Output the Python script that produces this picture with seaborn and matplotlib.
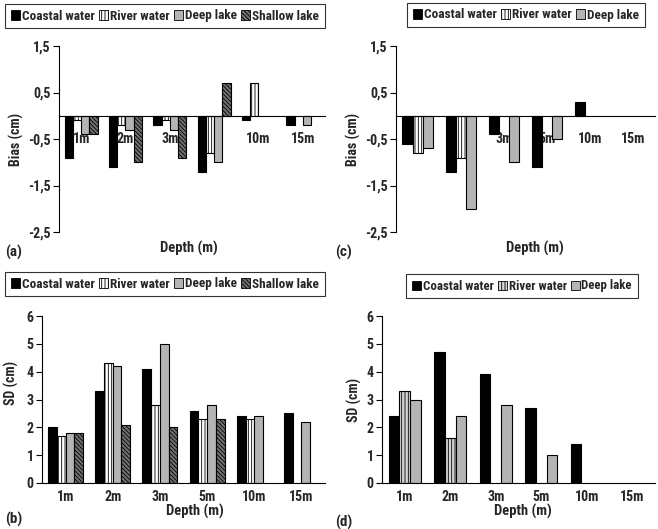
# Bias and SD of depth estimates for the four water types (panels a-d)
import numpy as np
import pandas as pd
import seaborn as sns
import matplotlib.pyplot as plt
from matplotlib.patches import Patch
from matplotlib import font_manager

# %%
# data (None = no bar)
depths = ['1m', '2m', '3m', '5m', '10m', '15m']

bias_a_coastal = [-0.9, -1.1, -0.2, -1.2, -0.1, -0.2]
bias_a_river = [-0.1, -0.2, -0.1, -0.8, 0.7, None]
bias_a_deep = [-0.4, -0.3, -0.3, -1.0, None, -0.2]
bias_a_shallow = [-0.4, -1.0, -0.9, 0.7, None, None]

sd_b_coastal = [2.0, 3.3, 4.1, 2.6, 2.4, 2.5]
sd_b_river = [1.7, 4.3, 2.8, 2.3, 2.3, None]
sd_b_deep = [1.8, 4.2, 5.0, 2.8, 2.4, 2.2]
sd_b_shallow = [1.8, 2.1, 2.0, 2.3, None, None]

bias_c_coastal = [-0.6, -1.2, -0.4, -1.1, 0.3, None]
bias_c_river = [-0.8, -0.9, None, None, None, None]
bias_c_deep = [-0.7, -2.0, -1.0, -0.5, None, None]

sd_d_coastal = [2.4, 4.7, 3.9, 2.7, 1.4, None]
sd_d_river = [3.3, 1.6, None, None, None, None]
sd_d_deep = [3.0, 2.4, 2.8, 1.0, None, None]

types4 = ['Coastal water', 'River water', 'Deep lake', 'Shallow lake']
types3 = ['Coastal water', 'River water', 'Deep lake']

bias_ticks = [1.5, 0.5, -0.5, -1.5, -2.5]
sd_ticks = [0, 1, 2, 3, 4, 5, 6]

# %%
sns.set_style('white')
# look for a narrow / condensed sans face (the original uses Arial Narrow bold)
narrow = None
for want in ['Liberation Sans Narrow', 'Roboto Condensed', 'Open Sans Condensed',
             'Noto Sans Condensed', 'Noto Sans', 'DejaVu Sans']:
    for f in font_manager.fontManager.ttflist:
        if f.name == want and ('Narrow' in f.name or 'Condensed' in f.fname
                               or 'Narrow' in f.fname or f.stretch == 'condensed'):
            narrow = f
            break
    if narrow is not None:
        break
if narrow is not None:
    plt.rcParams['font.family'] = [narrow.name, 'DejaVu Sans']
    plt.rcParams['font.stretch'] = narrow.stretch
else:
    plt.rcParams['font.family'] = ['Liberation Sans', 'DejaVu Sans']
plt.rcParams['font.weight'] = 'bold'
plt.rcParams['font.size'] = 10
plt.rcParams['hatch.linewidth'] = 0.6
plt.rcParams['hatch.color'] = 'black'

styles = {'Coastal water': ('black', ''),
          'River water': ('white', '|||||'),
          'Deep lake': ('#b4b4b4', ''),
          'Shallow lake': ('#707070', '\\\\\\\\\\\\\\\\')}


def make_df(series, names):
    rows = []
    for name, vals in zip(names, series):
        for d, v in zip(depths, vals):
            if v is not None:
                rows.append({'depth': d, 'type': name, 'value': v})
    return pd.DataFrame(rows)


def draw_panel(ax, series, names, width, bias, river_col='white'):
    df = make_df(series, names)
    cols = [styles[n][0] for n in names]
    cols[1] = river_col
    sns.barplot(data=df, x='depth', y='value', hue='type', order=depths,
                hue_order=names, palette=cols, width=width, ax=ax,
                edgecolor='black', linewidth=0.8, legend=False, saturation=1)
    for cont, n in zip(ax.containers, names):
        for bar in cont:
            bar.set_hatch(styles[n][1])
    ax.set_axisbelow(True)
    ax.set_xlim(-0.5, 5.5)
    for s in ['top', 'right']:
        ax.spines[s].set_visible(False)
    for s in ['left', 'bottom']:
        ax.spines[s].set_color('black')
        ax.spines[s].set_linewidth(0.8)
    ax.set_xticks(np.arange(0.5, 5.6, 1), minor=True)
    ax.tick_params(axis='x', which='major', length=0)
    ax.tick_params(axis='x', which='minor', length=4, direction='out', color='black', width=0.8)
    ax.tick_params(axis='y', length=4, direction='out', color='black', width=0.8, pad=2, left=True)
    if bias:
        ax.set_ylim(-2.5, 1.5)
        ax.set_yticks(bias_ticks)
        ax.set_yticklabels([f'{t:.1f}'.replace('.', ',') for t in bias_ticks])
        ax.spines['bottom'].set_position(('data', 0))
        ax.tick_params(axis='x', which='major', pad=12)
        ax.set_ylabel('Bias (cm)', fontweight='bold')
    else:
        ax.set_ylim(0, 6)
        ax.set_yticks(sd_ticks)
        ax.tick_params(axis='x', which='major', pad=5)
        ax.set_ylabel('SD (cm)', fontweight='bold')
    ax.set_xlabel('Depth (m)', fontweight='bold', fontsize=10.5)
    handles = [Patch(facecolor=c, edgecolor='black', hatch=styles[n][1], label=n, linewidth=0.6)
               for n, c in zip(names, cols)]
    return handles


# %%
fig = plt.figure(figsize=(6.58, 5.29), dpi=100)
W, H = 658, 529


def add_ax(left, right, top, bottom):
    return fig.add_axes([left / W, 1 - bottom / H, (right - left) / W, (bottom - top) / H])


ax_a = add_ax(59, 325, 46, 232)
ax_c = add_ax(396, 655, 46, 232)
ax_b = add_ax(42, 325, 316, 483)
ax_d = add_ax(382, 655, 316, 483)

h_a = draw_panel(ax_a, [bias_a_coastal, bias_a_river, bias_a_deep, bias_a_shallow], types4, 0.74, True)
h_c = draw_panel(ax_c, [bias_c_coastal, bias_c_river, bias_c_deep], types3, 0.70, True)
h_b = draw_panel(ax_b, [sd_b_coastal, sd_b_river, sd_b_deep, sd_b_shallow], types4, 0.74, False)
h_d = draw_panel(ax_d, [sd_d_coastal, sd_d_river, sd_d_deep], types3, 0.70, False, river_col='#d4d4d4')

ax_a.yaxis.set_label_coords(-0.13, 0.5)
ax_c.yaxis.set_label_coords(-0.135, 0.5)
ax_b.yaxis.set_label_coords(-0.081, 0.6)
ax_d.yaxis.set_label_coords(-0.073, 0.5)
ax_a.xaxis.set_label_coords(0.49, -0.048)
ax_c.xaxis.set_label_coords(0.537, -0.048)
ax_b.xaxis.set_label_coords(0.54, -0.128)
ax_d.xaxis.set_label_coords(0.516, -0.128)

# legends: shrink the font until the box is as wide as in the original
renderer = fig.canvas.get_renderer()
for ax, h, cx, cy, target in [(ax_a, h_a, 165, 16, 322), (ax_c, h_c, 526, 15, 242),
                              (ax_b, h_b, 165, 284, 322), (ax_d, h_d, 522, 286, 238)]:
    for size in np.arange(10, 6, -0.25):
        leg = ax.legend(handles=h, ncol=len(h), bbox_to_anchor=(cx / W, 1 - cy / H),
                        bbox_transform=fig.transFigure, loc='center', frameon=True,
                        fancybox=False, edgecolor='black', handlelength=0.7,
                        handleheight=0.7, handletextpad=0.15, columnspacing=0.3,
                        borderpad=0.45, borderaxespad=0,
                        prop={'weight': 'bold', 'size': size})
        leg.get_frame().set_linewidth(0.8)
        if leg.get_window_extent(renderer).width <= target:
            break

fig.text(5 / W, 1 - 252 / H, '(a)', fontsize=11, fontweight='bold', va='center')
fig.text(335 / W, 1 - 252 / H, '(c)', fontsize=11, fontweight='bold', va='center')
fig.text(5 / W, 1 - 519 / H, '(b)', fontsize=11, fontweight='bold', va='center')
fig.text(335 / W, 1 - 522 / H, '(d)', fontsize=11, fontweight='bold', va='center')

fig.savefig('out.png', dpi=100)
